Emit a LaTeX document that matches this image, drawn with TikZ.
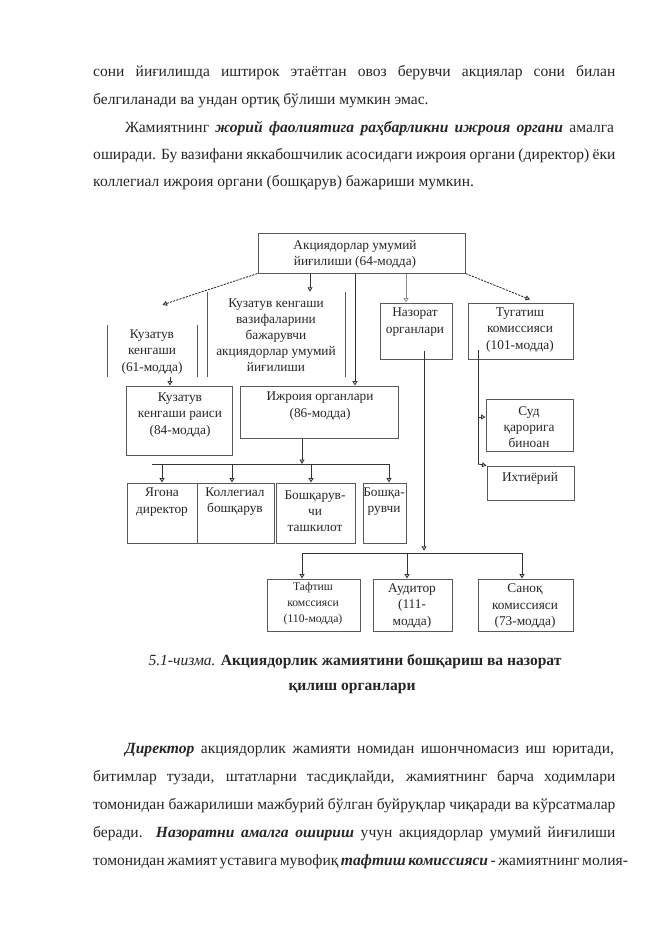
\documentclass[tikz,border=0pt]{standalone}
\usepackage{fontspec}
\setmainfont{Liberation Serif}
\usetikzlibrary{arrows.meta,calc}
\newcommand\Bx[7]{\node[#1, minimum width={(#5-#3)*0.9pt}, minimum height={(#6-#4)*0.9pt}] (#2) at ({(#3+#5)/2},{(#4+#6)/2}) {};\node[lbl] (#2-t) at #7}
\newcommand\BI[1]{\textbf{\textit{#1}}}
\begin{document}
\begin{tikzpicture}[x=0.9pt,y=-0.9pt,
  box/.style={draw=black!65, line width=0.9pt, inner sep=0pt, rectangle},
  ghost/.style={inner sep=0pt, rectangle},
  side/.style={draw=black!65, line width=0.9pt},
  lbl/.style={font=\fontsize{12}{14.5}\selectfont, align=center, anchor=center, inner sep=0pt, text=black!85},
  con/.style={draw=black!80, line width=0.8pt},
  lcon/.style={draw=black!45, line width=0.7pt},
  arr/.style={con, -{Triangle[open, length=4pt, width=4.5pt]}},
  larr/.style={lcon, -{Triangle[open, length=4pt, width=4.5pt]}},
  darr/.style={arr, dash pattern=on 2pt off 1pt},
  body/.style={font=\fontsize{14}{25}\selectfont, anchor=base west, inner sep=0pt, text=black!85},
  captxt/.style={font=\fontsize{14}{25}\selectfont, anchor=base, inner sep=0pt, text=black!85},
]
\useasboundingbox (0,0) rectangle (661,935);
\fill[white] (0,0) rectangle (661,935);

% ---------- body text (top) ----------
\node[body] (p1) at (93,76) {\makebox[470pt][s]{сони йиғилишда иштирок этаётган овоз берувчи акциялар сони билан}};
\node[body] (p2) at (93,104) {белгиланади ва ундан ортиқ бўлиши мумкин эмас.};
\node[body] (p3) at (125,132) {\makebox[440pt][s]{Жамиятнинг \BI{жорий фаолиятига раҳбарликни ижроия органи} амалга}};
\node[body] (p4) at (93,159) {\makebox[470pt][s]{оширади. Бу вазифани яккабошчилик асосидаги ижроия органи (директор) ёки}};
\node[body] (p5) at (93,186) {коллегиал ижроия органи (бошқарув) бажариши мумкин.};

% ---------- boxes ----------
\Bx{box}{top}{258}{233}{465}{273}{(355,254) {Акциядорлар умумий\\йиғилиши (64-модда)};}
\Bx{ghost}{k61}{108}{308}{197}{377}{(152,352) {Кузатув\\кенгаши\\(61-модда)};}
\Bx{ghost}{vaz}{208}{292}{345}{377}{(276,335) {Кузатув кенгаши\\вазифаларини\\бажарувчи\\акциядорлар умумий\\йиғилиши};}
\Bx{box}{naz}{380}{303}{452}{359}{(415,322) {Назорат\\органлари};}
\Bx{box}{tug}{468}{303}{573}{359}{(520,330) {Тугатиш\\комиссияси\\(101-модда)};}
\Bx{box}{rais}{126}{386}{232}{455}{(180,415) {Кузатув\\кенгаши раиси\\(84-модда)};}
\Bx{box}{ijr}{240}{386}{398}{438}{(320,406) {Ижроия органлари\\(86-модда)};}
\Bx{box}{sud}{486}{399}{573}{451}{(529,427) {Суд\\қарорига\\биноан};}
\Bx{box}{ixt}{487}{466}{574}{500}{(530,478) {Ихтиёрий};}
\Bx{box}{yag}{127}{483}{197}{543}{(162,502) {Ягона\\директор};}
\Bx{box}{kol}{197}{483}{274}{543}{(235,502) {Коллегиал\\бошқарув};}
\Bx{box}{bsh}{276}{483}{355}{543}{(315,511) {Бошқарув-\\чи\\ташкилот};}
\Bx{box}{bsq}{363}{483}{406}{543}{(384,502) {Бошқа-\\рувчи};}
\Bx{box}{taf}{267}{579}{360}{631}{(313,604) {\fontsize{10.5}{13}\selectfont Тафтиш\\\fontsize{10.5}{13}\selectfont комссияси\\\fontsize{10.5}{13}\selectfont (110-модда)};}
\Bx{box}{aud}{373}{579}{452}{631}{(412,606) {Аудитор\\(111-\\модда)};}
\Bx{box}{san}{478}{579}{573}{631}{(525,606) {Саноқ\\комиссияси\\(73-модда)};}

% sides of boxes whose top and bottom edges are not shown
\draw[side] ($(k61.north west)+(0,17)$) -- (k61.south west);
\draw[side] ($(k61.north east)+(0,17)$) -- (k61.south east);
\draw[side] (vaz.north west) -- (vaz.south west);
\draw[side] (vaz.north east) -- (vaz.south east);

% ---------- connectors ----------
\draw[darr] (top.south west) -- ($(k61.north)+(10,-3)$);
\draw[arr] (top.south -| 310,0) -- (vaz.north -| 310,0);
\draw[arr] (top.south -| 355,0) -- (ijr.north -| 355,0);
\draw[larr] (top.south -| 406,0) -- (naz.north -| 406,0);
\draw[darr] (top.south east) -- ($(tug.north -| 530,0)+(0,-3)$);
\draw[arr] (k61.south -| 170,0) -- (rais.north -| 170,0);

% Ijroiya bus
\coordinate (b1) at (302,464);
\draw[arr] (ijr.south -| b1) -- (b1);
\draw[con] (152,464) -- (389,464);
\coordinate (d1) at (162,464);
\coordinate (d2) at (232,464);
\coordinate (d3) at (311,464);
\coordinate (d4) at (389,464);
\draw[arr] (d1) -- (yag.north -| d1);
\draw[arr] (d2) -- (kol.north -| d2);
\draw[arr] (d3) -- (bsh.north -| d3);
\draw[arr] (d4) -- (bsq.north -| d4);

% Nazorat bus
\coordinate (b2) at (424,553);
\draw[arr, shorten >=2pt] ($(naz.south -| b2)+(0,-9)$) -- (b2);
\coordinate (e1) at (302,553);
\coordinate (e2) at (407,553);
\coordinate (e3) at (522,553);
\draw[con] (e1) -- (e3);
\draw[arr] (e1) -- (taf.north -| e1);
\draw[arr] (e2) -- (aud.north -| e2);
\draw[arr] (e3) -- (san.north -| e3);

% Tugatish branches
\coordinate (t0) at (478,350);
\coordinate (t1) at (478,417);
\coordinate (t2) at (478,464);
\draw[con] (t0) -- (t2);
\draw[arr] (t1) -- (sud.west |- t1);
\draw[arr] (t2) -- (ixt.north west);

% ---------- caption ----------
\node[captxt] (c1) at (355,665) {\textit{5.1-чизма.} \textbf{Акциядорлик жамиятини бошқариш ва назорат}};
\node[captxt] (c2) at (352,690) {\textbf{қилиш органлари}};

% ---------- body text (bottom) ----------
\node[body] (q1) at (125,753) {\makebox[440pt][s]{\BI{Директор} акциядорлик жамияти номидан ишончномасиз иш юритади,}};
\node[body] (q2) at (93,781) {\makebox[470pt][s]{битимлар тузади, штатларни тасдиқлайди, жамиятнинг барча ходимлари}};
\node[body] (q3) at (93,809) {\makebox[470pt][s]{томонидан бажарилиши мажбурий бўлган буйруқлар чиқаради ва кўрсатмалар}};
\node[body] (q4) at (93,837) {\makebox[470pt][s]{беради. \BI{Назоратни амалга ошириш} учун акциядорлар умумий йиғилиши}};
\node[body] (q5) at (93,865) {\makebox[470pt][s]{томонидан жамият уставига мувофиқ \BI{тафтиш комиссияси} - жамиятнинг молия-}};
\end{tikzpicture}
\end{document}
